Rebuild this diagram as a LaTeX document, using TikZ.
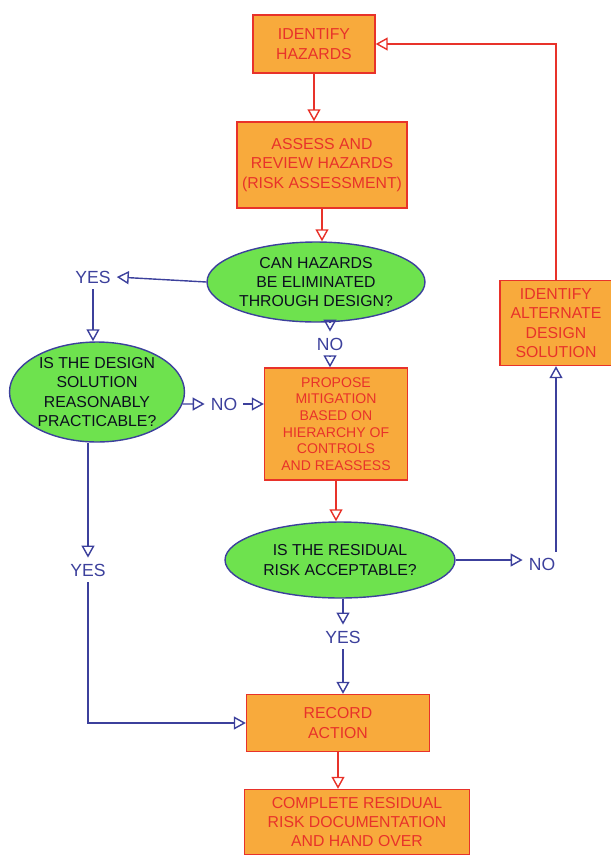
\documentclass[tikz,border=0pt]{standalone}
\usepackage{fontspec}
\setmainfont{Liberation Sans}
\usepackage{xcolor}
\usetikzlibrary{shapes.geometric, arrows.meta, positioning, calc}

\definecolor{marker}{HTML}{F8AA3C}
\definecolor{pen}{HTML}{E8322A}
\definecolor{ink}{HTML}{3C409C}
\definecolor{leaf}{HTML}{6EE24E}

\tikzset{
    proc/.style={draw=pen, fill=marker, text=pen, thick, align=center, font=\small, inner sep=2pt},
    ask/.style={ellipse, draw=ink, fill=leaf, text=black!80!ink, thick, align=center, font=\small, inner sep=0pt},
    redline/.style={draw=pen, thick, -{Triangle[open,length=2.4mm,width=2.6mm]}},
    blueline/.style={draw=ink, thick, -{Triangle[open,length=2.4mm,width=2.6mm]}},
    lbl/.style={text=ink, font=\normalsize},
}

\begin{document}
\begin{tikzpicture}[x=0.02cm, y=-0.02cm]
    \useasboundingbox (0,0) rectangle (611,859);
    % process boxes
    \node[proc, minimum width=2.44cm, minimum height=1.16cm] (identify) at (314,44) {IDENTIFY\\HAZARDS};
    \node[proc, minimum width=3.4cm, minimum height=1.72cm] (assess) at (322,165) {ASSESS AND\\REVIEW HAZARDS\\(RISK ASSESSMENT)};
    \node[proc, font=\footnotesize, minimum width=2.86cm, minimum height=2.24cm] (mitig) at (336,424) {PROPOSE\\MITIGATION\\BASED ON\\HIERARCHY OF\\CONTROLS\\AND REASSESS};
    \node[proc, minimum width=2.24cm, minimum height=1.7cm] (altern) at (556,323) {IDENTIFY\\ALTERNATE\\DESIGN\\SOLUTION};
    \node[proc, minimum width=3.66cm, minimum height=1.14cm] (record) at (338,723) {RECORD\\ACTION};
    \node[proc, minimum width=4.5cm, minimum height=1.3cm] (final) at (357,822) {COMPLETE RESIDUAL\\RISK DOCUMENTATION\\AND HAND OVER};
    % decisions
    \node[ask, minimum width=4.36cm, minimum height=1.6cm] (can) at (316,282) {CAN HAZARDS\\BE ELIMINATED\\THROUGH DESIGN?};
    \node[ask, minimum width=3.5cm, minimum height=2cm] (practic) at (97,392) {IS THE DESIGN\\SOLUTION\\REASONABLY\\PRACTICABLE?};
    \node[ask, minimum width=4.6cm, minimum height=1.52cm] (residual) at (340,560) {IS THE RESIDUAL\\RISK ACCEPTABLE?};
    % answers
    \node[lbl] (yes1) at (93,277) {YES};
    \node[lbl] (no1) at (330,344) {NO};
    \node[lbl] (no2) at (224,404) {NO};
    \node[lbl] (no3) at (542,564) {NO};
    \node[lbl] (yes2) at (343,637) {YES};
    \node[lbl] (yes3) at (88,570) {YES};

    % main line
    \draw[redline] (identify.south) -- (identify.south |- assess.north);
    \draw[redline] (assess.south) -- (assess.south |- can.north);
    \draw[redline] (mitig.south) -- (mitig.south |- residual.north);
    \draw[redline] (record.south) -- (record.south |- final.north);
    \draw[redline] (altern.north) |- (identify.east);

    % answers
    \draw[blueline] (can.west) -- (yes1.east);
    \draw[blueline] (yes1.south) -- (yes1.south |- practic.north);
    \draw[blueline] (can.south -| no1) -- (no1.north);
    \draw[blueline] (no1.south) -- (no1.south |- mitig.north);
    \draw[blueline] (practic.-8) -- (no2.west);
    \draw[blueline] (no2.east) -- (no2.east -| mitig.west);
    \draw[blueline] (residual.east) -- (residual.east -| no3.west);
    \draw[blueline] (no3.north -| altern.south) -- (altern.south);
    \draw[blueline] (residual.south -| yes2) -- (yes2.north);
    \draw[blueline] (yes2.south) -- (yes2.south |- record.north);
    \draw[blueline] (practic.south -| yes3) -- (yes3.north);
    \draw[blueline] (yes3.south) |- (record.west);
\end{tikzpicture}
\end{document}
